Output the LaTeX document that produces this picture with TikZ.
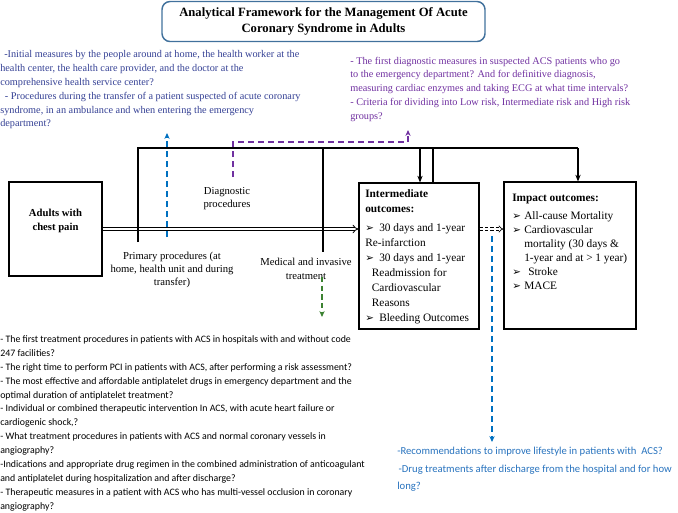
\documentclass[tikz,border=0pt]{standalone}
\usepackage{fontspec}
\setmainfont{Liberation Serif}
\newfontfamily\calfont{Carlito}
\newfontfamily\symfont{DejaVu Sans}
\usetikzlibrary{arrows.meta}
\definecolor{navytxt}{RGB}{52,64,148}
\definecolor{purp}{RGB}{112,48,160}
\definecolor{bluel}{RGB}{0,112,192}
\definecolor{btxt}{RGB}{40,115,190}
\definecolor{greenl}{RGB}{60,130,50}
\definecolor{titleb}{RGB}{65,113,156}
\newcommand{\arrb}[1]{\makebox[#1][l]{\symfont\fontsize{7.8}{7.8}\selectfont ➢}}
\begin{document}
\begin{tikzpicture}[x=0.75pt,y=-0.75pt,
  outbox/.style={draw=black, line width=0.9pt, inner sep=0pt},
  mainline/.style={line width=1.6pt, black},
  arrowblk/.style={-{Stealth[length=5pt,width=4pt]}},
  arrowcol/.style={-{Stealth[length=4.5pt,width=4pt]}},
  dashblue/.style={bluel, line width=1.1pt, dash pattern=on 4.5pt off 3pt},
  dashpurp/.style={purp, line width=1.1pt, dash pattern=on 4.5pt off 3pt},
  dashgreen/.style={greenl, line width=1.1pt, dash pattern=on 4pt off 2.5pt},
  lbl/.style={align=center, font=\fontsize{8}{10}\selectfont, inner sep=0pt},
  toptxt/.style={align=left, anchor=north west, inner sep=0pt, font=\fontsize{7.7}{10.35}\selectfont},
]
\useasboundingbox (0,0) rectangle (678,512);

% title
\node[draw=titleb, line width=1.1pt, rounded corners=6pt, minimum width=242.25pt, minimum height=30pt,
      align=center, font=\bfseries\fontsize{9.5}{12}\selectfont] (title) at (323.5,21.5)
  {Analytical Framework for the Management Of Acute\\Coronary Syndrome in Adults};

% top texts
\node[toptxt, text=navytxt] (tl) at (0,50.5) {\hspace*{3pt}-Initial measures by the people around at home, the health worker at the\\
health center, the health care provider, and the doctor at the\\
comprehensive health service center?\\
\hspace*{3.5pt}- Procedures during the transfer of a patient suspected of acute coronary\\
syndrome, in an ambulance and when entering the emergency\\
department?};
\node[toptxt, text=purp] (tr) at (350,56.5) {- The first diagnostic measures in suspected ACS patients who go\\
to the emergency department? And for definitive diagnosis,\\
measuring cardiac enzymes and taking ECG at what time intervals?\\
- Criteria for dividing into Low risk, Intermediate risk and High risk\\
groups?};

% boxes
\node[outbox, minimum width=69.75pt, minimum height=70.5pt] (adults) at (55.5,229) {};
\node[lbl, font=\bfseries\fontsize{8}{11}\selectfont] (adultstxt) at (55.5,221) {Adults with\\chest pain};
\node[outbox, minimum width=90pt, minimum height=109.5pt] (inter) at (419,256) {};
\node[outbox, minimum width=99pt, minimum height=110.25pt] (impact) at (570,255.5) {};

\node[align=left, anchor=north west, inner sep=0pt, font=\fontsize{8.5}{11.25}\selectfont] (intertxt) at (365,189)
 {\textbf{Intermediate}\\ \textbf{outcomes:}\\[3pt]
  \arrb{10.5pt}30 days and 1-year\\
  Re-infarction\\
  \arrb{10.5pt}30 days and 1-year\\
  \hspace*{5pt}Readmission for\\
  \hspace*{5pt}Cardiovascular\\
  \hspace*{5pt}Reasons\\
  \arrb{10.5pt}Bleeding Outcomes};
\node[align=left, anchor=north west, inner sep=0pt, font=\fontsize{8.5}{10.5}\selectfont] (impacttxt) at (512,194)
 {\textbf{Impact outcomes:}\\[3pt]
  \arrb{9pt}All-cause Mortality\\
  \arrb{9pt}Cardiovascular\\
  \hspace*{9pt}mortality (30 days \&\\
  \hspace*{9pt}1-year and at > 1 year)\\
  \arrb{12pt}Stroke\\
  \arrb{9pt}MACE};

% labels
\node[lbl] (diag) at (227,198.5) {Diagnostic\\procedures};
\node[lbl] (prim) at (172,270) {Primary procedures (at\\home, health unit and during\\transfer)};
\node[lbl] (med) at (306,269) {Medical and invasive\\treatment};

% main flow
\draw[double, double distance=1.6pt, line width=0.6pt, -Implies] (adults.east) -- (adults.east -| inter.west);
\coordinate (a1) at (138,242);
\coordinate (a2) at (138,148);
\coordinate (tcorner) at (578,148);
\draw[mainline] (a1) -- (a2) -- (tcorner);
\draw[mainline, arrowblk] (tcorner) -- (impact.north -| tcorner);
\coordinate (m1) at (323,148);
\coordinate (m2) at (323,252);
\draw[mainline] (m1) -- (m2);
\coordinate (i1) at (420,148);
\draw[mainline, arrowblk] (i1) -- (inter.north -| i1);
\coordinate (i2) at (433,148);
\draw[mainline] (i2) -- (inter.north -| i2);

% dashed connectors
\coordinate (b1) at (167,237);
\coordinate (b2) at (167,133);
\draw[dashblue, arrowcol] (b1) -- (b2);
\coordinate (p1) at (233,177);
\coordinate (p2) at (233,142);
\coordinate (p3) at (408,142);
\coordinate (p4) at (408,130);
\draw[dashpurp, arrowcol] (p1) -- (p2) -- (p3) -- (p4);
\coordinate (g1) at (322,277);
\coordinate (g2) at (322,317);
\draw[dashgreen, arrowcol] (g1) -- (g2);
\draw[double, double distance=1.3pt, line width=0.5pt, dash pattern=on 2.5pt off 1.5pt, -Implies] (adults.east -| inter.east) -- (adults.east -| impact.west);
\coordinate (d1) at (492,236);
\coordinate (d2) at (492,442);
\draw[dashblue, arrowcol] (d1) -- (d2);

% bottom texts
\node[align=left, anchor=north west, inner sep=0pt, font=\calfont\fontsize{7.4}{10.4}\selectfont] (bl) at (0,335.5)
 {- The first treatment procedures in patients with ACS in hospitals with and without code\\
247 facilities?\\
- The right time to perform PCI in patients with ACS, after performing a risk assessment?\\
- The most effective and affordable antiplatelet drugs in emergency department and the\\
optimal duration of antiplatelet treatment?\\
- Individual or combined therapeutic intervention In ACS, with acute heart failure or\\
cardiogenic shock,?\\
- What treatment procedures in patients with ACS and normal coronary vessels in\\
angiography?\\
-Indications and appropriate drug regimen in the combined administration of anticoagulant\\
and antiplatelet during hospitalization and after discharge?\\
- Therapeutic measures in a patient with ACS who has multi-vessel occlusion in coronary\\
angiography?};
\node[align=left, anchor=north west, inner sep=0pt, text=btxt, font=\calfont\fontsize{8}{13.2}\selectfont] (br) at (397,447)
 {-Recommendations to improve lifestyle in patients with\ \ ACS?\\
\hspace*{1pt}-Drug treatments after discharge from the hospital and for how\\
long?};
\end{tikzpicture}
\end{document}
